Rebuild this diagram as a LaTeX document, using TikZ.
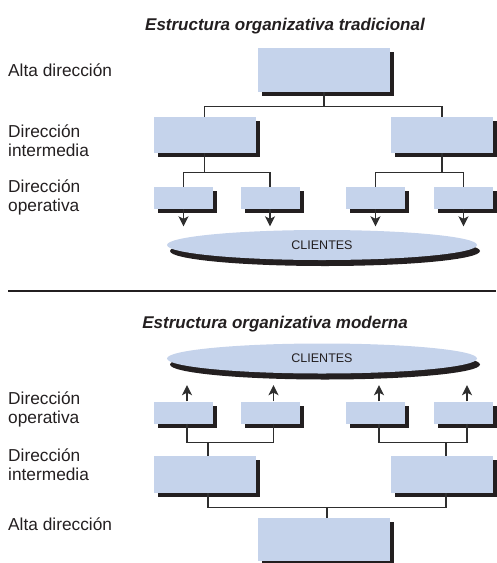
\documentclass[tikz,border=0pt]{standalone}
\usepackage{fontspec}
\setmainfont{Liberation Sans}
\usetikzlibrary{shapes.geometric,shadows,arrows.meta}
\definecolor{boxblue}{HTML}{C5D3EB}
\definecolor{shadowc}{HTML}{231F20}
\definecolor{linec}{HTML}{2E2E2E}
\definecolor{textc}{HTML}{231F20}
\tikzset{
  orgbox/.style={rectangle, inner sep=0pt, fill=boxblue,
    drop shadow={shadow xshift=4pt, shadow yshift=-4pt, fill=shadowc, opacity=1}},
  bigbox/.style={orgbox, minimum width=132pt, minimum height=44pt},
  midbox/.style={orgbox, minimum width=102pt, minimum height=36pt},
  smallbox/.style={orgbox, minimum width=59pt, minimum height=22pt},
  client/.style={ellipse, inner sep=0pt, fill=boxblue, minimum width=310pt, minimum height=30pt,
    drop shadow={shadow xshift=3pt, shadow yshift=-6pt, fill=shadowc, opacity=1},
    font=\fontsize{12.5}{14}\selectfont, text=textc},
  conn/.style={draw=linec, line width=1.3pt},
  arr/.style={conn, -{Stealth[length=10pt,width=10pt,inset=2.5pt]}},
  lbl/.style={anchor=base west, inner sep=0pt, align=left, text=textc,
    font=\fontsize{17.3}{18.5}\selectfont},
  ttl/.style={anchor=base east, inner sep=0pt, text=textc,
    font=\fontsize{17}{20}\selectfont\bfseries\itshape}
}
\begin{document}
\begin{tikzpicture}[x=1pt, y=-1pt]
\useasboundingbox (0,0) rectangle (496,563);
% ---------- traditional ----------
\node[ttl] (t1) at (425,30) {Estructura organizativa tradicional};
\node[lbl] (l1) at (8,76) {Alta dirección};
\node[lbl] (l2) at (8,156) {Dirección\\intermedia};
\node[lbl] (l3) at (8,211) {Dirección\\operativa};

\node[bigbox] (A1) at (324,70) {};
\node[midbox] (I1L) at (204.5,135) {};
\node[midbox] (I1R) at (442,135) {};
\node[smallbox] (O1a) at (183.5,198) {};
\node[smallbox] (O1b) at (270,198) {};
\node[smallbox] (O1c) at (375.5,198) {};
\node[smallbox] (O1d) at (463.5,198) {};
\node[client] (C1) at (322,245) {CLIENTES};

\draw[conn] (A1.south) -- ++(0,14) -| (I1L.north);
\draw[conn] (A1.south) -- ++(0,14) -| (I1R.north);
\draw[conn] (I1L.south) -- ++(0,19) -| (O1a.north);
\draw[conn] (I1L.south) -- ++(0,19) -| (O1b.north);
\draw[conn] (I1R.south) -- ++(0,19) -| (O1c.north);
\draw[conn] (I1R.south) -- ++(0,19) -| (O1d.north);
\foreach \n in {O1a,O1b,O1c,O1d}
  \draw[arr] (\n.south) -- ([yshift=3.5pt]\n.south |- C1.north);

% separator
\draw[line width=1.5pt, shadowc] (8,291) -- (496,291);

% ---------- modern ----------
\node[ttl] (t2) at (408,328) {Estructura organizativa moderna};
\node[lbl] (l4) at (8,423) {Dirección\\operativa};
\node[lbl] (l5) at (8,480) {Dirección\\intermedia};
\node[lbl] (l6) at (8,530) {Alta dirección};

\node[client] (C2) at (322,358.5) {CLIENTES};
\node[smallbox] (O2a) at (183.5,412.5) {};
\node[smallbox] (O2b) at (270,412.5) {};
\node[smallbox] (O2c) at (375.5,412.5) {};
\node[smallbox] (O2d) at (463.5,412.5) {};
\node[midbox, minimum height=37pt] (I2L) at (205,474.5) {};
\node[midbox, minimum height=37pt] (I2R) at (442,474.5) {};
\node[bigbox, minimum height=43pt] (A2) at (324,539.5) {};

\foreach \n in {O2a,O2b,O2c,O2d}
  \draw[arr] ([xshift=3.5pt]\n.north) -- ([xshift=3.5pt,yshift=-11.5pt]\n.north |- C2.south);
\draw[conn] ([xshift=3.5pt]O2a.south) -- ++(0,19) -| ([xshift=3pt]I2L.north);
\draw[conn] ([xshift=3.5pt]O2b.south) -- ++(0,19) -| ([xshift=3pt]I2L.north);
\draw[conn] ([xshift=3.5pt]O2c.south) -- ++(0,19) -| ([xshift=4pt]I2R.north);
\draw[conn] ([xshift=3.5pt]O2d.south) -- ++(0,19) -| ([xshift=4pt]I2R.north);
\draw[conn] ([xshift=3pt]I2L.south) -- ++(0,14) -| ([xshift=3pt]A2.north);
\draw[conn] ([xshift=4pt]I2R.south) -- ++(0,14) -| ([xshift=3pt]A2.north);
\end{tikzpicture}
\end{document}
